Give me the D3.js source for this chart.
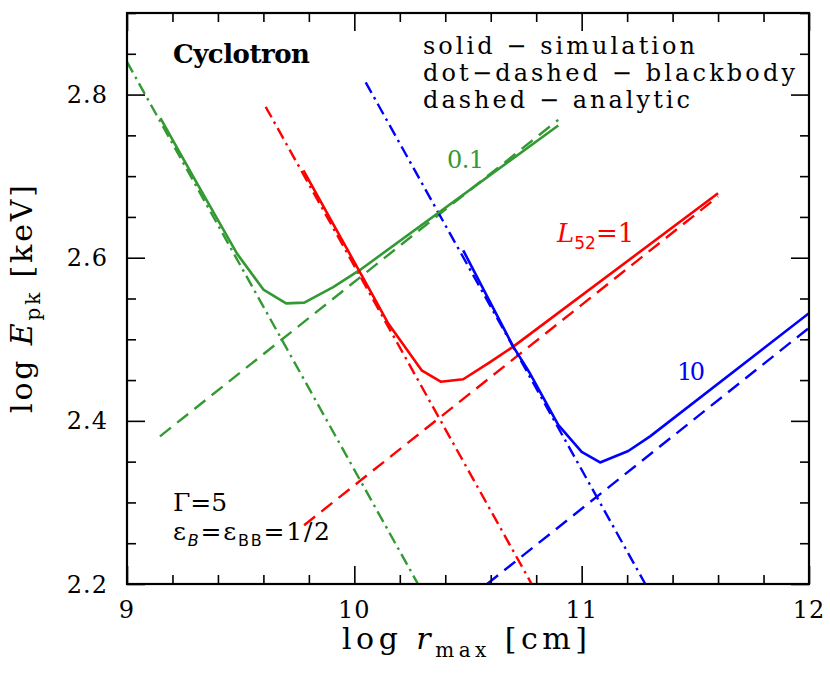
<!DOCTYPE html>
<html><head><meta charset="utf-8">
<script src="https://cdn.jsdelivr.net/npm/d3@7"></script>
<style>body{margin:0;background:#fff}svg{display:block}text{font-family:"DejaVu Serif",serif}</style>
</head><body><svg id="c" width="830" height="679"></svg>
<script>
// ---- data ----
const xMajor = [9, 10, 11, 12];
const yMajor = [2.2, 2.4, 2.6, 2.8];
const xMinorStep = 0.2, yMinorStep = 0.05;
const seriesNames = ["0.1", "1", "10"];
const colors = ["#339933", "#ff0000", "#0000ff"];
// simulation (solid)
const simGreen = [[9.147,2.771],[9.30,2.695],[9.484,2.605],[9.60,2.561],[9.70,2.544],[9.78,2.545],[9.907,2.564],[10.025,2.585],[10.897,2.762]];
const simRed   = [[9.776,2.707],[10.069,2.56],[10.150,2.519],[10.296,2.462],[10.38,2.448],[10.479,2.451],[10.597,2.472],[10.699,2.491],[11.6,2.679]];
const simBlue  = [[10.479,2.609],[10.699,2.491],[10.773,2.458],[10.897,2.395],[11.0,2.362],[11.081,2.349],[11.205,2.363],[11.301,2.381],[12.0,2.532]];
// blackbody (dot-dashed)
const bbGreen = [[9.0,2.84],[10.28,2.2]];
const bbRed   = [[9.61,2.785],[10.78,2.2]];
const bbBlue  = [[10.05,2.815],[11.28,2.2]];
// analytic (dashed)
const anGreen = [[9.145,2.381],[10.897,2.769]];
const anRed   = [[9.779,2.272],[11.6,2.675]];
const anBlue  = [[10.584,2.2],[12.0,2.514]];

// ---- layout ----
const L = 127, R = 809, T = 13, B = 584;
const x = d3.scaleLinear().domain([9, 12]).range([L, R]);
const y = d3.scaleLinear().domain([2.2, 2.9]).range([B, T]);
const svg = d3.select("#c");
svg.append("defs").append("clipPath").attr("id","clip")
  .append("rect").attr("x",L).attr("y",T).attr("width",R-L).attr("height",B-T);

const line = d3.line().x(d=>x(d[0])).y(d=>y(d[1]));
const g = svg.append("g").attr("clip-path","url(#clip)");
const sims = [simGreen, simRed, simBlue];
const bbs = [bbGreen, bbRed, bbBlue];
const ans = [anGreen, anRed, anBlue];
ans.forEach((d,i)=>g.append("path").attr("d",line(d)).attr("fill","none")
  .attr("stroke",colors[i]).attr("stroke-width",2.4).attr("stroke-dasharray","14,8"));
bbs.forEach((d,i)=>g.append("path").attr("d",line(d)).attr("fill","none")
  .attr("stroke",colors[i]).attr("stroke-width",2.4).attr("stroke-dasharray","12,5,2.5,5"));
sims.forEach((d,i)=>g.append("path").attr("d",line(d)).attr("fill","none")
  .attr("stroke",colors[i]).attr("stroke-width",2.6).attr("stroke-linejoin","round"));

// ---- axes (ticks inward on all four sides) ----
const xMinor = d3.range(9, 12.0001, xMinorStep).filter(v=>!xMajor.some(m=>Math.abs(m-v)<1e-6));
const yMinor = d3.range(2.2, 2.9001, yMinorStep).filter(v=>!yMajor.some(m=>Math.abs(m-v)<1e-6));
function axisX(gen, ty, len, ticks){
  const a = svg.append("g").attr("transform",`translate(0,${ty})`).call(gen(x).tickValues(ticks).tickSize(len).tickFormat(""));
  a.select(".domain").remove();
  a.selectAll("line").attr("stroke","#000").attr("stroke-width",1.6);
}
function axisY(gen, tx, len, ticks){
  const a = svg.append("g").attr("transform",`translate(${tx},0)`).call(gen(y).tickValues(ticks).tickSize(len).tickFormat(""));
  a.select(".domain").remove();
  a.selectAll("line").attr("stroke","#000").attr("stroke-width",1.6);
}
axisX(d3.axisTop, B, 18, xMajor); axisX(d3.axisTop, B, 9, xMinor);
axisX(d3.axisBottom, T, 18, xMajor); axisX(d3.axisBottom, T, 9, xMinor);
axisY(d3.axisRight, L, 18, yMajor); axisY(d3.axisRight, L, 9, yMinor);
axisY(d3.axisLeft, R, 18, yMajor); axisY(d3.axisLeft, R, 9, yMinor);
svg.append("rect").attr("x",L).attr("y",T).attr("width",R-L).attr("height",B-T)
  .attr("fill","none").attr("stroke","#000").attr("stroke-width",2.2);

// tick labels
svg.append("g").selectAll("text").data(xMajor).join("text")
  .attr("x",d=>x(d)).attr("y",618).attr("text-anchor","middle")
  .attr("font-size",24).attr("letter-spacing",1).text(d=>d3.format("d")(d));
svg.append("g").selectAll("text").data(yMajor).join("text")
  .attr("x",108).attr("y",d=>y(d)+8.5).attr("text-anchor","end")
  .attr("font-size",24).attr("letter-spacing",1).text(d=>d3.format(".1f")(d));

// axis titles
const xt = svg.append("text").attr("x",342).attr("y",649).attr("font-size",30)
  .attr("textLength",245).attr("lengthAdjust","spacing");
xt.append("tspan").text("log ");
xt.append("tspan").attr("font-style","italic").text("r");
xt.append("tspan").attr("font-size",20).attr("dy",8).text("max");
xt.append("tspan").attr("dy",-8).text(" [cm]");

const yt = svg.append("text").attr("transform","translate(32,413) rotate(-90)").attr("font-size",30)
  .attr("textLength",228).attr("lengthAdjust","spacing");
yt.append("tspan").text("log ");
yt.append("tspan").attr("font-style","italic").text("E");
yt.append("tspan").attr("font-size",20).attr("dy",8).text("pk");
yt.append("tspan").attr("dy",-8).text(" [keV]");

// annotations
svg.append("text").attr("x",173).attr("y",63).attr("font-size",26).attr("font-weight","bold")
  .attr("textLength",137).attr("lengthAdjust","spacing").text("Cyclotron");
const legendLines = ["solid \u2212 simulation","dot\u2212dashed \u2212 blackbody","dashed \u2212 analytic"];
const legendW = [272, 372, 267];
svg.append("g").selectAll("text").data(legendLines).join("text")
  .attr("x",423).attr("y",(d,i)=>54+i*27).attr("font-size",24)
  .attr("textLength",(d,i)=>legendW[i]).attr("lengthAdjust","spacing").text(d=>d);

svg.append("text").attr("x",447).attr("y",168).attr("font-size",24).attr("fill",colors[0])
  .attr("textLength",37).attr("lengthAdjust","spacing").text(seriesNames[0]);
const lt = svg.append("text").attr("x",557).attr("y",242).attr("font-size",26).attr("fill",colors[1]);
lt.append("tspan").attr("font-style","italic").text("L");
lt.append("tspan").attr("font-size",17).attr("dy",7).attr("font-family","DejaVu Sans").text("52");
lt.append("tspan").attr("dy",-7).text("=" + seriesNames[1]);
svg.append("text").attr("x",677).attr("y",380).attr("font-size",24).attr("fill",colors[2])
  .attr("textLength",28).attr("lengthAdjust","spacing").text(seriesNames[2]);

const gt = svg.append("text").attr("x",173).attr("y",511).attr("font-size",25);
gt.append("tspan").text("\u0393=5");
const et = svg.append("text").attr("x",173).attr("y",540).attr("font-size",25)
  .attr("textLength",157).attr("lengthAdjust","spacing");
et.append("tspan").text("\u03b5");
et.append("tspan").attr("font-size",16).attr("dy",6).attr("font-style","italic").attr("font-family","DejaVu Sans").text("B");
et.append("tspan").attr("dy",-6).text("=\u03b5");
et.append("tspan").attr("font-size",16).attr("dy",6).attr("font-family","DejaVu Sans").text("BB");
et.append("tspan").attr("dy",-6).text("=1/2");
</script></body></html>
